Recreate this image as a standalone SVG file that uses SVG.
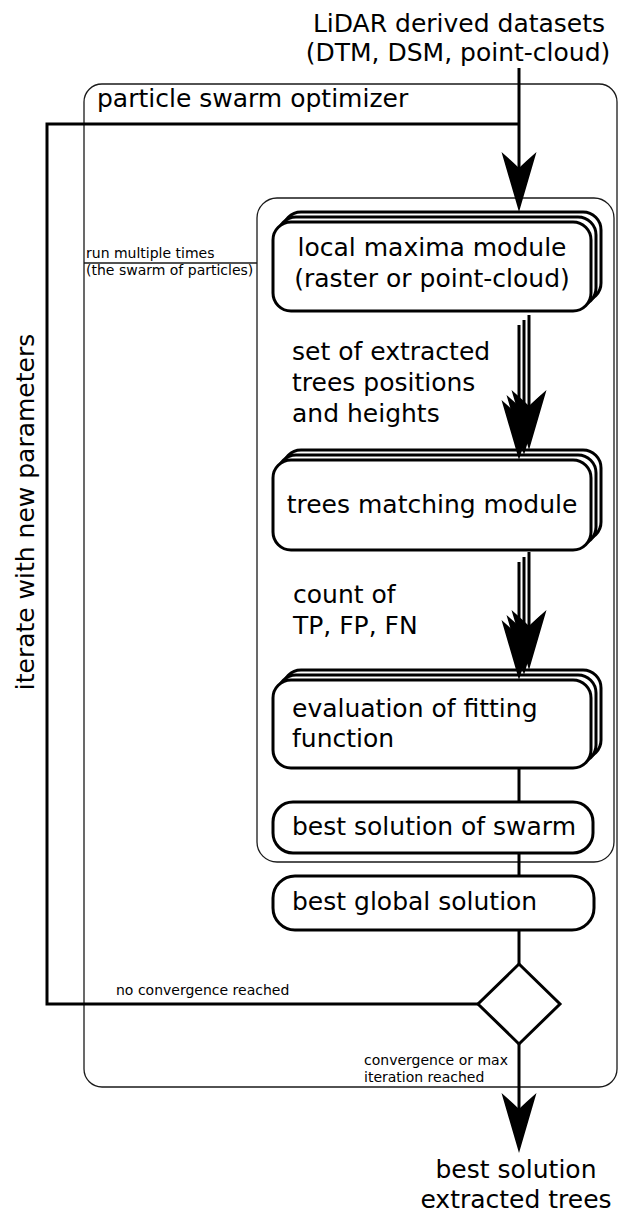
<svg xmlns="http://www.w3.org/2000/svg" xmlns:xlink="http://www.w3.org/1999/xlink" width="619" height="1213" viewBox="0 0 619 1213">
<style>
text{font-family:"DejaVu Sans","Liberation Sans",sans-serif;fill:#000}
.big{font-size:25px}
.small{font-size:14px}
.frame{fill:none;stroke:#1a1a1a;stroke-width:1.3}
.box{fill:#fff;stroke:#000;stroke-width:3}
.conn{fill:none;stroke:#000;stroke-width:3}
.head{fill:#000}
</style>
<defs>
<path id="ah" class="head" d="M0,0 L-17.5,-60 Q-6,-50 0,-44 Q6,-50 17.5,-60 Z"/>
</defs>
<rect x="0" y="0" width="619" height="1213" fill="#fff"/>

<g id="pso">
<rect class="frame" x="84" y="84" width="533" height="1003" rx="18"/>
<text class="big" x="97" y="107">particle swarm optimizer</text>
</g>

<g id="swarm">
<rect class="frame" x="257" y="198" width="357" height="664" rx="20"/>
<line class="frame" x1="84" y1="263" x2="257" y2="263"/>
<text class="small" x="86" y="258">run multiple times</text>
<text class="small" x="86" y="275">(the swarm of particles)</text>
</g>

<g id="input">
<text class="big" text-anchor="middle" x="459" y="32">LiDAR derived datasets</text>
<text class="big" text-anchor="middle" x="458" y="61">(DTM, DSM, point-cloud)</text>
</g>

<g id="local-maxima">
<rect class="box" x="283" y="212" width="318" height="89" rx="18"/>
<rect class="box" x="278" y="217" width="318" height="89" rx="18"/>
<rect class="box" x="273" y="222" width="318" height="89" rx="18"/>
<text class="big" text-anchor="middle" x="432" y="256">local maxima module</text>
<text class="big" text-anchor="middle" x="432" y="287">(raster or point-cloud)</text>
</g>

<g id="trees-matching">
<rect class="box" x="283" y="450" width="318" height="90" rx="18"/>
<rect class="box" x="278" y="455" width="318" height="90" rx="18"/>
<rect class="box" x="273" y="460" width="318" height="90" rx="18"/>
<text class="big" text-anchor="middle" x="432" y="513">trees matching module</text>
</g>

<g id="evaluation">
<rect class="box" x="283" y="670" width="318" height="88" rx="18"/>
<rect class="box" x="278" y="675" width="318" height="88" rx="18"/>
<rect class="box" x="273" y="680" width="318" height="88" rx="18"/>
<text class="big" x="292" y="717">evaluation of fitting</text>
<text class="big" x="292" y="747">function</text>
</g>

<g id="best-swarm">
<rect class="box" x="273" y="802" width="320" height="51" rx="20"/>
<text class="big" x="292" y="835">best solution of swarm</text>
</g>

<g id="best-global">
<rect class="box" x="273" y="876" width="321" height="54" rx="22"/>
<text class="big" x="292" y="910">best global solution</text>
</g>

<g id="decision">
<polygon class="box" points="519,964 560,1004 519,1044 478,1004"/>
</g>

<g id="output">
<text class="big" text-anchor="middle" x="516" y="1178">best solution</text>
<text class="big" text-anchor="middle" x="516" y="1208">extracted trees</text>
</g>

<g id="connectors">
<line class="conn" x1="519" y1="68" x2="519" y2="200"/>
<use xlink:href="#ah" transform="translate(519,212)"/>
<path class="conn" d="M519,124 H47 V1004 H478"/>
<text class="big" text-anchor="middle" transform="translate(34,512) rotate(-90)">iterate with new parameters</text>

<line class="conn" x1="529" y1="315" x2="529" y2="440"/>
<line class="conn" x1="524" y1="320" x2="524" y2="445"/>
<line class="conn" x1="519" y1="325" x2="519" y2="450"/>
<use xlink:href="#ah" transform="translate(529,450)"/>
<use xlink:href="#ah" transform="translate(524,455)"/>
<use xlink:href="#ah" transform="translate(519,460)"/>
<text class="big" x="292" y="360">set of extracted</text>
<text class="big" x="292" y="391">trees positions</text>
<text class="big" x="292" y="422">and heights</text>

<line class="conn" x1="529" y1="552" x2="529" y2="660"/>
<line class="conn" x1="524" y1="557" x2="524" y2="665"/>
<line class="conn" x1="519" y1="562" x2="519" y2="670"/>
<use xlink:href="#ah" transform="translate(529,670)"/>
<use xlink:href="#ah" transform="translate(524,675)"/>
<use xlink:href="#ah" transform="translate(519,680)"/>
<text class="big" x="293" y="603">count of</text>
<text class="big" x="293" y="634">TP, FP, FN</text>

<line class="conn" x1="519" y1="768" x2="519" y2="802"/>
<line class="conn" x1="519" y1="853" x2="519" y2="876"/>
<line class="conn" x1="519" y1="930" x2="519" y2="964"/>
<line class="conn" x1="519" y1="1044" x2="519" y2="1140"/>
<use xlink:href="#ah" transform="translate(519,1153)"/>
<text class="small" x="116" y="995">no convergence reached</text>
<text class="small" x="364" y="1065">convergence or max</text>
<text class="small" x="364" y="1082">iteration reached</text>
</g>
</svg>
